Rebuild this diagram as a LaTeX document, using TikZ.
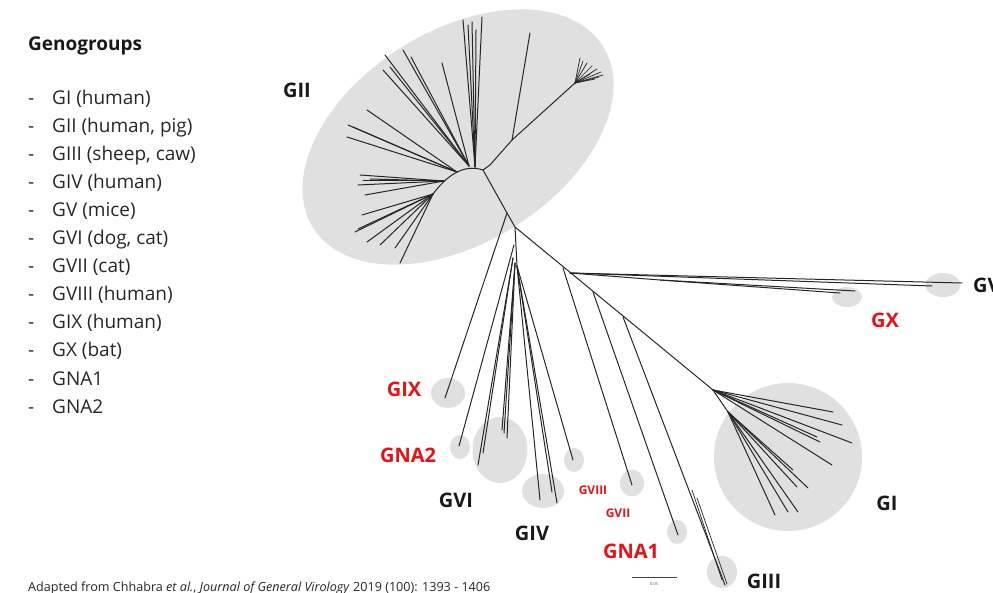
\documentclass[tikz,border=0pt]{standalone}
\usepackage{fontspec}
\setmainfont{Open Sans}
\usetikzlibrary{shapes.geometric}
\definecolor{clu}{RGB}{224,224,224}
\definecolor{lab}{RGB}{232,18,18}
\begin{document}
\begin{tikzpicture}[x=1pt,y=-1pt,
  br/.style={line width=1pt, draw=black!85, line cap=round, line join=round},
  clus/.style={ellipse, fill=clu, inner sep=0pt},
  blab/.style={font=\fontsize{20}{24}\selectfont\bfseries, text=black!90, inner sep=0pt},
  rlab/.style={blab, text=lab},
  slab/.style={font=\fontsize{12}{14}\selectfont\bfseries, text=lab, inner sep=0pt},
  leg/.style={font=\fontsize{19}{23}\selectfont, anchor=base west, inner sep=0pt, text=black!85}]
\useasboundingbox (0,0) rectangle (993,593);

% ---- cluster shadings
\node[clus, minimum width=342pt, minimum height=212pt, rotate=32] (cGII) at (458,137) {};
\node[clus, minimum width=34pt, minimum height=30pt] (cGIX) at (448,393) {};
\node[clus, minimum width=20pt, minimum height=24pt] (cGNA2) at (460,447) {};
\node[clus, minimum width=55pt, minimum height=66pt] (cGVI) at (500,450) {};
\node[clus, minimum width=42pt, minimum height=34pt] (cGIV) at (543,491) {};
\node[clus, minimum width=20pt, minimum height=24pt] (cGVIII) at (574,460) {};
\node[clus, minimum width=24pt, minimum height=27pt] (cGVII) at (632,483) {};
\node[clus, minimum width=20pt, minimum height=24pt] (cGNA1) at (677,532) {};
\node[clus, minimum width=30pt, minimum height=32pt] (cGIII) at (722,572) {};
\node[clus, minimum width=148pt, minimum height=148pt] (cGI) at (788,457) {};
\node[clus, minimum width=30pt, minimum height=20pt] (cGX) at (847,297) {};
\node[clus, minimum width=35pt, minimum height=24pt] (cGV) at (943,285) {};

% ---- internal tree nodes
\coordinate (r0) at (483,170);
\coordinate (hR) at (490,165);
\coordinate (nR1) at (512,140);
\coordinate (nR2) at (575,83);
\coordinate (hV) at (475,167);
\coordinate (hUL) at (469,166);
\coordinate (hL) at (457,172);
\coordinate (hL2) at (444,181);
\coordinate (hL3) at (433,194);
\coordinate (t1) at (507,213);
\coordinate (t2) at (515,227);
\coordinate (tA) at (514,245);
\coordinate (tB) at (513,258);
\coordinate (t5) at (515,263);
\coordinate (t6) at (517,266);
\coordinate (t3) at (563,268);
\coordinate (t4) at (570,273);
\coordinate (t7) at (593,292);
\coordinate (t8) at (623,317);
\coordinate (g0) at (713,390);
\coordinate (g1) at (728,412);
\coordinate (vx) at (660,280);

% ---- GII subtree
\draw[br] (hL3) .. controls (445,178) and (462,163) .. (r0);
\draw[br] (r0) -- (hR) -- (nR1) -- (nR2);
\draw[br] (nR1) -- (530,33);
\foreach \x/\y [count=\i] in {580/58,583/61,587/63,592/66,597/69,601/72,603/75,599/77,595/79,590/74}
  { \coordinate (fR\i) at (\x,\y); \draw[br, line width=0.7pt] (nR2) -- (fR\i); }
\foreach \x/\y [count=\i] in {463/20,468/25,472/22,476/30,482/17}
  { \coordinate (fV\i) at (\x,\y); \draw[br] (hV) -- (fV\i); }
\foreach \x/\y [count=\i] in {385/55,383/70,390/67,403/50,411/57,442/63}
  { \coordinate (fU\i) at (\x,\y); \draw[br] (hUL) -- (fU\i); }
\foreach \x/\y [count=\i] in {367/110,348/125,347/137,353/127}
  { \coordinate (fL\i) at (\x,\y); \draw[br] (hL) -- (fL\i); }
\foreach \x/\y [count=\i] in {360/175,358/185,365/195,370/179,363/181}
  { \coordinate (fM\i) at (\x,\y); \draw[br] (hL2) -- (fM\i); }
\foreach \x/\y [count=\i] in {362/215,355/232,367/242,380/245,395/248,400/263,358/229}
  { \coordinate (fN\i) at (\x,\y); \draw[br] (hL3) -- (fN\i); }

% ---- trunk
\draw[br] (r0) -- (t1) -- (t2) -- (g0);
\draw[br] (t2) -- (t6);
% GIX, GNA2
\draw[br] (t1) -- (445,398) coordinate (eGIX);
\draw[br] (tA) -- (459,446) coordinate (eGNA2);
% GVI
\draw[br] (tB) -- (478,465) coordinate (eV1);
\draw[br] (tB) -- (483,453) coordinate (eV2);
\draw[br] (t5) -- (502,430) coordinate (eV3);
\draw[br] (t5) -- (507,438) coordinate (eV4);
\draw[br] (t5) -- (504,433) coordinate (eV5);
% GIV
\draw[br] (t6) -- (540,500) coordinate (eI1);
\draw[br] (t6) -- (552,492) coordinate (eI2);
\draw[br] (t6) -- (557,503) coordinate (eI3);
% GVIII
\draw[br] (t6) -- (573,460) coordinate (eGVIII);
% GVII, GNA1
\draw[br] (t3) -- (632,485) coordinate (eGVII);
\draw[br] (t7) -- (678,535) coordinate (eGNA1);
% GIII
\draw[br] (t8) -- (725,585) coordinate (eGIII);
\draw[br, line width=0.7pt] (692,490) -- (722,580);
\draw[br, line width=0.7pt] (697,498) -- (727,584);
% GV and GX
\draw[br] (t4) -- (962,283) coordinate (eGV1);
\draw[br] (t4) -- (932,286) coordinate (eGV2);
\draw[br] (t4) -- (vx) -- (855,291) coordinate (eGX1);
\draw[br] (vx) -- (840,293) coordinate (eGX2);
% GI
\draw[br] (g0) -- (g1);
\foreach \x/\y [count=\i] in {833/412,842/425,852/443,817/437,820/442,832/465}
  { \coordinate (gU\i) at (\x,\y); \draw[br] (g0) -- (gU\i); }
\foreach \x/\y [count=\i] in {775/515,788/512,798/512,808/488,793/470,797/487}
  { \coordinate (gL\i) at (\x,\y); \draw[br] (g1) -- (gL\i); }

% ---- cluster labels
\node[blab] (lGII) at (297,90) {GII};
\node[rlab] (lGIX) at (404,389) {GIX};
\node[rlab] (lGNA2) at (408,455) {GNA2};
\node[blab] (lGVI) at (456,500) {GVI};
\node[blab] (lGIV) at (532,533) {GIV};
\node[slab] (lGVIII) at (593,490) {GVIII};
\node[slab] (lGVII) at (618,513) {GVII};
\node[rlab] (lGNA1) at (631,551) {GNA1};
\node[blab] (lGIII) at (764,581) {GIII};
\node[blab] (lGI) at (887,503) {GI};
\node[rlab] (lGX) at (885,320) {GX};
\node[blab, anchor=west] (lGV) at (973,285) {GV};

% ---- scale bar
\coordinate (sb1) at (632,577);
\coordinate (sb2) at (677,577);
\draw[line width=0.7pt, black!75] (sb1) -- (sb2);
\node[font=\fontsize{4}{5}\selectfont, inner sep=0pt, text=black!70] (sbt) at (654,584) {0.05};

% ---- legend
\node[font=\fontsize{19}{23}\selectfont\bfseries, anchor=base west, inner sep=0pt, text=black!90] (head) at (28,51) {Genogroups};
\foreach \t [count=\i] in {GI (human),GII (human{,} pig),GIII (sheep{,} caw),GIV (human),GV (mice),GVI (dog{,} cat),GVII (cat),GVIII (human),GIX (human),GX (bat),GNA1,GNA2}
  { \node[leg] (d\i) at (28,{98+28*(\i-1)+7}) {-};
    \node[leg] (l\i) at (52,{98+28*(\i-1)+7}) {\t}; }

% ---- caption
\node[anchor=base west, font=\fontsize{12.6}{15}\selectfont, inner sep=0pt, text=black!85] (cap) at (28,591)
  {Adapted from Chhabra \textit{et al.}, \textit{Journal of General Virology} 2019 (100): 1393 - 1406};
\end{tikzpicture}
\end{document}
